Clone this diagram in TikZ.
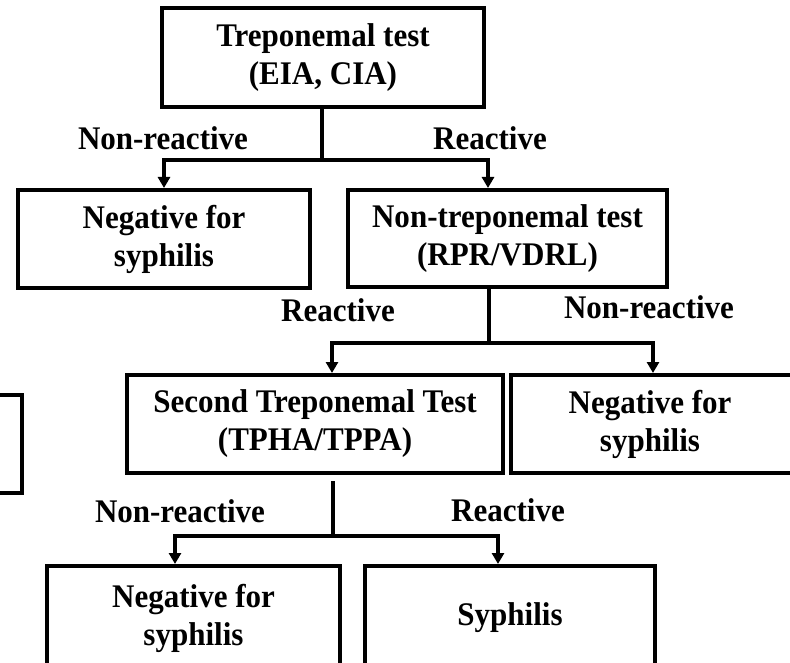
\documentclass[tikz,border=0pt]{standalone}
\usepackage{fontspec}
\setmainfont{Liberation Serif}[FakeStretch=0.94]
\usetikzlibrary{arrows.meta}
\begin{document}
\begin{tikzpicture}[x=1pt,y=-1pt,
  txt/.style={font=\bfseries\fontsize{33}{38}\selectfont},
  box/.style={txt, draw=black, line width=4pt, align=center, inner sep=0pt},
  boxtext/.style={txt, align=center, inner sep=0pt},
  lbl/.style={txt, inner sep=0pt},
  conn/.style={draw=black, line width=3.5pt},
  arr/.style={conn, -{Triangle[length=11pt,width=12pt]}}]
\clip (0,0) rectangle (790,663);
\fill[white] (0,0) rectangle (790,663);
% boxes
\node[box, minimum width=322, minimum height=99] (b1) at (323,57.5) {Treponemal test\\(EIA, CIA)};
\node[box, minimum width=292, minimum height=98] (b2) at (164,239) {Negative for\\syphilis};
\node[box, minimum width=319, minimum height=97] (b3) at (507.5,238.5) {Non-treponemal test\\(RPR/VDRL)};
\node[box, minimum width=376, minimum height=98] (b4) at (315,424) {Second Treponemal Test\\(TPHA/TPPA)};
\node[box, minimum width=300, minimum height=98] (b5) at (661,424) {};
\node[boxtext] (b5t) at (650,424) {Negative for\\syphilis};
\node[box, minimum width=150, minimum height=98] (bL) at (-53,444) {};
\node[box, minimum width=293, minimum height=104] (b6) at (193.5,618) {Negative for\\syphilis};
\node[box, minimum width=290, minimum height=104] (b7) at (510,618) {Syphilis};
% junctions
\coordinate (j1) at (322,160);
\coordinate (j2) at (489,343);
\coordinate (j3) at (333,536);
% connectors
\draw[conn] (b1.south -| j1) -- (j1);
\draw[arr] (j1) -| (b2.north);
\draw[arr] (j1) -| ([xshift=-19.5pt]b3.north);
\draw[conn] (b3.south -| j2) -- (j2);
\draw[arr] (j2) -| ([xshift=17pt]b4.north);
\draw[arr] (j2) -| ([xshift=-8pt]b5.north);
\draw[conn, shorten <=6pt] (b4.south -| j3) -- (j3);
\draw[arr] (j3) -| ([xshift=-18.5pt]b6.north);
\draw[arr] (j3) -| ([xshift=-12pt]b7.north);
% labels
\node[lbl] (l1) at (163,138) {Non-reactive};
\node[lbl] (l2) at (490,138) {Reactive};
\node[lbl] (l3) at (338,310) {Reactive};
\node[lbl] (l4) at (649,307) {Non-reactive};
\node[lbl] (l5) at (180,511) {Non-reactive};
\node[lbl] (l6) at (508,510) {Reactive};
\end{tikzpicture}
\end{document}
